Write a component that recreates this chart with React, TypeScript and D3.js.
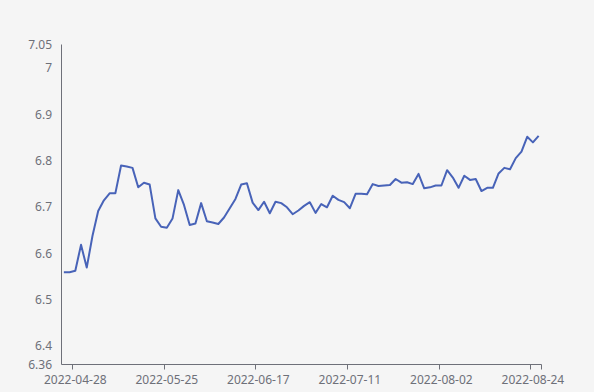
import React from "react";
import * as d3 from "d3";

const dates: string[] = [
  "2022-04-26", "2022-04-27", "2022-04-28", "2022-04-29",
  "2022-05-05", "2022-05-06",
  "2022-05-09", "2022-05-10", "2022-05-11", "2022-05-12", "2022-05-13",
  "2022-05-16", "2022-05-17", "2022-05-18", "2022-05-19", "2022-05-20",
  "2022-05-23", "2022-05-24", "2022-05-25", "2022-05-26", "2022-05-27",
  "2022-05-30", "2022-05-31", "2022-06-01", "2022-06-02",
  "2022-06-06", "2022-06-07", "2022-06-08", "2022-06-09", "2022-06-10",
  "2022-06-13", "2022-06-14", "2022-06-15", "2022-06-16", "2022-06-17",
  "2022-06-20", "2022-06-21", "2022-06-22", "2022-06-23", "2022-06-24",
  "2022-06-27", "2022-06-28", "2022-06-29", "2022-06-30", "2022-07-01",
  "2022-07-04", "2022-07-05", "2022-07-06", "2022-07-07", "2022-07-08",
  "2022-07-11", "2022-07-12", "2022-07-13", "2022-07-14", "2022-07-15",
  "2022-07-18", "2022-07-19", "2022-07-20", "2022-07-21", "2022-07-22",
  "2022-07-25", "2022-07-26", "2022-07-27", "2022-07-28", "2022-07-29",
  "2022-08-01", "2022-08-02", "2022-08-03", "2022-08-04", "2022-08-05",
  "2022-08-08", "2022-08-09", "2022-08-10", "2022-08-11", "2022-08-12",
  "2022-08-15", "2022-08-16", "2022-08-17", "2022-08-18", "2022-08-19",
  "2022-08-22", "2022-08-23", "2022-08-24", "2022-08-25",
];

const values: number[] = [
  6.559, 6.559, 6.562, 6.618, 6.569, 6.637, 6.691, 6.714, 6.729, 6.729,
  6.789, 6.787, 6.784, 6.742, 6.752, 6.748, 6.675, 6.657, 6.655, 6.675,
  6.736, 6.704, 6.661, 6.664, 6.708, 6.669, 6.666, 6.663, 6.677, 6.697,
  6.717, 6.748, 6.751, 6.709, 6.693, 6.711, 6.686, 6.711, 6.708, 6.699,
  6.684, 6.692, 6.702, 6.710, 6.687, 6.706, 6.699, 6.724, 6.715, 6.710,
  6.697, 6.728, 6.728, 6.727, 6.749, 6.745, 6.746, 6.747, 6.760, 6.752,
  6.753, 6.749, 6.771, 6.740, 6.742, 6.746, 6.746, 6.779, 6.763, 6.741,
  6.767, 6.758, 6.760, 6.734, 6.741, 6.741, 6.772, 6.784, 6.781, 6.805,
  6.819, 6.851, 6.839, 6.853,
];

const xTickLabels: string[] = [
  "2022-04-28", "2022-05-25", "2022-06-17", "2022-07-11", "2022-08-02", "2022-08-24",
];

const yTicks: number[] = [6.36, 6.4, 6.5, 6.6, 6.7, 6.8, 6.9, 7, 7.05];

const W = 594;
const H = 392;

export default function App() {
  const x = d3.scaleBand<string>().domain(dates).range([61, 541.5]).paddingInner(0).paddingOuter(0);
  const y = d3.scaleLinear().domain([6.36, 7.05]).range([364.5, 44.5]);
  const bw = x.bandwidth();
  const line = d3
    .line<number>()
    .x((_, i) => (x(dates[i]) as number) + bw / 2)
    .y((v) => y(v));

  const axisColor = "#6E7079";
  const textColor = "#6E7079";
  const font = "'Noto Sans', 'DejaVu Sans', sans-serif";
  const x0 = 61.5;
  const x1 = 541.5;
  const yBase = 364.5;

  return (
    <div style={{ position: "fixed", left: 0, top: 0, width: W, height: H }}>
      <svg width={W} height={H} style={{ display: "block", background: "#f5f5f5" }}>
        <rect x={0} y={0} width={W} height={H} fill="#f5f5f5" />
        {/* y axis */}
        <line x1={x0} x2={x0} y1={y(7.05)} y2={yBase} stroke={axisColor} strokeWidth={1} />
        {yTicks.map((t) => (
          <text
            key={t}
            x={52}
            y={y(t)}
            textAnchor="end"
            dominantBaseline="central"
            fontSize={12}
            fontFamily={font}
            fill={textColor}
          >
            {String(t)}
          </text>
        ))}
        {/* x axis */}
        <line x1={x0} x2={x1} y1={yBase} y2={yBase} stroke={axisColor} strokeWidth={1} />
        {xTickLabels.map((d) => {
          const xs = Math.round(x(d) as number) + 0.5;
          return (
            <g key={d}>
              <line x1={xs} x2={xs} y1={yBase} y2={yBase + 5} stroke={axisColor} strokeWidth={1} />
              <text
                x={(x(d) as number) + bw / 2}
                y={yBase + 15}
                textAnchor="middle"
                dominantBaseline="central"
                fontSize={12}
                fontFamily={font}
                fill={textColor}
              >
                {d}
              </text>
            </g>
          );
        })}
        <line x1={x1} x2={x1} y1={yBase} y2={yBase + 5} stroke={axisColor} strokeWidth={1} />
        {/* series */}
        <path
          d={line(values) || ""}
          fill="none"
          stroke="#4863b8"
          strokeWidth={2}
          strokeLinejoin="round"
        />
      </svg>
    </div>
  );
}
